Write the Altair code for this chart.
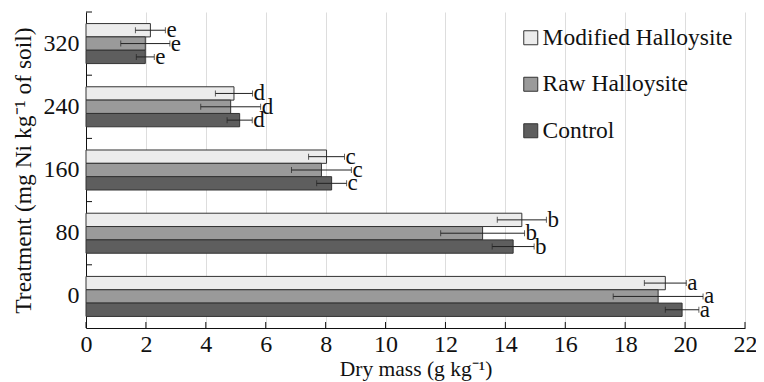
import altair as alt
import pandas as pd

treatments = ["320", "240", "160", "80", "0"]
series_names = ["Modified Halloysite", "Raw Halloysite", "Control"]
modified = [2.15, 4.94, 8.03, 14.55, 19.34]
modified_err = [0.5, 0.62, 0.6, 0.82, 0.7]
raw = [1.98, 4.83, 7.86, 13.24, 19.1]
raw_err = [0.82, 1.0, 1.0, 1.4, 1.5]
control = [1.98, 5.13, 8.2, 14.26, 19.9]
control_err = [0.3, 0.42, 0.5, 0.7, 0.56]
letters = ["e", "d", "c", "b", "a"]
xticks = [0, 2, 4, 6, 8, 10, 12, 14, 16, 18, 20, 22]
colors = ["#ececec", "#9a9a9a", "#5e5e5e"]

rows = []
for s, vals, errs in zip(series_names, [modified, raw, control], [modified_err, raw_err, control_err]):
    for t, v, e, l in zip(treatments, vals, errs, letters):
        rows.append({"treatment": t, "series": s, "value": v, "lo": v - e, "hi": v + e, "letter": l})
df = pd.DataFrame(rows)

FONT = "Liberation Serif"
LS = 24

yenc = alt.Y("treatment:N", sort=treatments,
             scale=alt.Scale(paddingInner=0.367, paddingOuter=0.183),
             axis=alt.Axis(title="Treatment (mg Ni kg⁻¹  of soil)", ticks=False,
                           labelFont=FONT, labelFontSize=LS, labelPadding=7, labelColor="#111",
                           titleFont=FONT, titleFontSize=23.5, titleFontWeight="normal",
                           titleColor="#111", titlePadding=8, domainColor="#111"))
yoff = alt.YOffset("series:N", sort=series_names, scale=alt.Scale(paddingInner=0, paddingOuter=0))

base = alt.Chart(df)

bars = base.mark_bar(stroke="#333", strokeWidth=1).encode(
    x=alt.X("value:Q", scale=alt.Scale(domain=[0, 22], nice=False),
            axis=alt.Axis(values=xticks, ticks=False, title="Dry mass (g kg⁻¹)",
                          labelFont=FONT, labelFontSize=LS, labelPadding=4, labelColor="#111",
                          titleFont=FONT, titleFontSize=21.5, titleFontWeight="normal",
                          titleColor="#111", titlePadding=2, domainColor="#111",
                          labelFlush=False)),
    y=yenc,
    yOffset=yoff,
    color=alt.Color("series:N", scale=alt.Scale(domain=series_names, range=colors),
                    legend=alt.Legend(title=None, orient="none", legendX=433, legendY=14,
                                      symbolType="square", symbolSize=196,
                                      symbolStrokeColor="#333", symbolStrokeWidth=1,
                                      labelFont=FONT, labelFontSize=23.5, labelColor="#111",
                                      labelLimit=400,
                                      labelOffset=0, rowPadding=21.5, padding=0)),
)

err = base.mark_rule(color="#222", strokeWidth=1).encode(
    x="lo:Q", x2="hi:Q", y=yenc, yOffset=yoff)
cap_lo = base.mark_tick(color="#222", thickness=1, size=6).encode(
    x="lo:Q", y=yenc, yOffset=yoff)
cap_hi = base.mark_tick(color="#222", thickness=1, size=6).encode(
    x="hi:Q", y=yenc, yOffset=yoff)
txt = base.mark_text(align="left", baseline="alphabetic", dx=1, dy=7,
                     font=FONT, fontSize=23, color="#111").encode(
    x="hi:Q", y=yenc, yOffset=yoff, text="letter:N")

xtick_layer = alt.Chart(pd.DataFrame({"t": xticks})).mark_rule(color="#111").encode(
    x=alt.X("t:Q"), y=alt.value(316), y2=alt.value(310))

main = alt.layer(bars, err, cap_lo, cap_hi, txt, xtick_layer)

ytick_layer = alt.Chart(pd.DataFrame({"treatment": treatments})).mark_rule(color="#111").encode(
    y=alt.Y("treatment:N", sort=treatments, bandPosition=0,
            scale=alt.Scale(paddingInner=0, paddingOuter=0), axis=None),
    x=alt.value(0), x2=alt.value(6))

chart = alt.layer(main, ytick_layer).resolve_scale(y="independent").properties(
    width=659, height=316,
    autosize=alt.AutoSizeParams(type="none"),
    padding={"left": 78, "top": 4, "right": 11, "bottom": 54},
    background="white",
).configure_view(stroke=None).configure_legend(
    labelFont=FONT, labelFontSize=23.5
).configure_text(font=FONT)

chart.save("out.html", embed_options={"renderer": "svg", "actions": False})
